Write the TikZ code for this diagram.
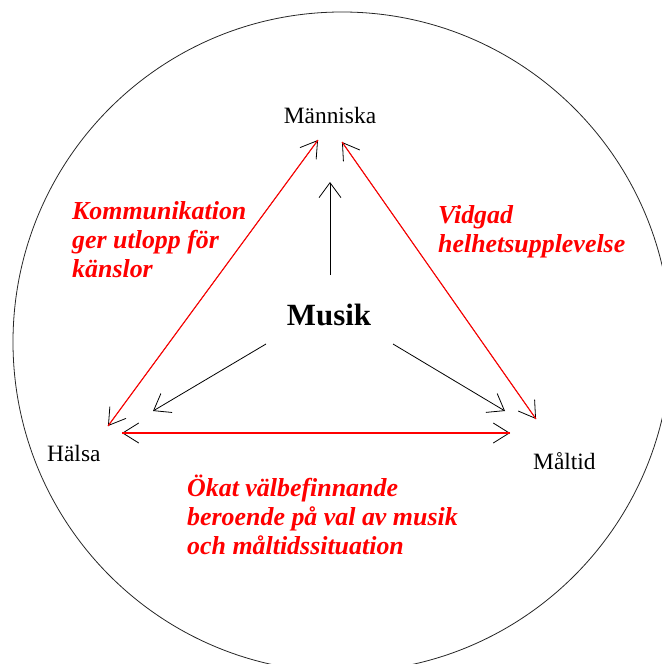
\documentclass[tikz,border=0pt]{standalone}
\usepackage{fontspec}
\setmainfont{Liberation Serif}
\usetikzlibrary{arrows.meta}
\begin{document}
\begin{tikzpicture}[x=1bp,y=-1bp,
  lbl/.style={font=\fontsize{23.5}{27}\selectfont, inner sep=0pt},
  big/.style={font=\fontsize{31}{36}\selectfont\bfseries, inner sep=0pt},
  redlbl/.style={text=red, font=\fontsize{26}{29}\selectfont\bfseries\itshape, align=left, inner sep=0pt, anchor=base west},
  blk/.style={draw=black, line width=0.8bp, -{Straight Barb[length=15bp,width=22bp]}},
  tips/.style={draw=black, line width=0.4bp, {Straight Barb[line width=0.8bp,length=16bp,width=20bp]}-{Straight Barb[line width=0.8bp,length=16bp,width=20bp]}},
  rl/.style={draw=red, line width=1.1bp}
]
\useasboundingbox (0,0) rectangle (662,664);
\begin{scope}
  \clip (0,0) rectangle (662,664);
  \draw[line width=0.8bp, black!85] (342,342) circle[x radius=329bp, y radius=330bp];
\end{scope}

% text nodes
\node[lbl, anchor=base] (manniska) at (330,124) {Människa};
\node[big, anchor=base] (musik) at (329,325) {Musik};
\node[lbl, anchor=base west] (halsa) at (47,461) {Hälsa};
\node[lbl, anchor=base west] (maltid) at (533,469) {Måltid};

% (base anchor of a multi-line node = baseline of its last line)
\node[redlbl] (komm) at (72,277) {Kommunikation\\ger utlopp för\\känslor};
\node[redlbl] (vidgad) at (438,252) {Vidgad\\helhetsupplevelse};
\node[redlbl] (okat) at (187,554) {Ökat välbefinnande\\beroende på val av musik\\och måltidssituation};

% arrow end points
\coordinate (hA) at (108,426);
\coordinate (mA) at (318,140);
\coordinate (mB) at (342,142);
\coordinate (tB) at (536,419);
\coordinate (hC) at (122,433);
\coordinate (tC) at (510,433);
\coordinate (muU) at (330,275);
\coordinate (mU) at (330,182);
\coordinate (muL) at (266,344);
\coordinate (hL) at (153,411);
\coordinate (muR) at (393,344);
\coordinate (tR) at (505,411);

% double arrows: black open tips, red line laid over
\draw[tips] (hA) -- (mA);
\draw[tips] (mB) -- (tB);
\draw[tips] (hC) -- (tC);
\draw[rl] (hA) -- (mA);
\draw[rl] (mB) -- (tB);
\draw[rl] (hC) -- (tC);

% black arrows from Musik
\draw[blk] (muU) -- (mU);
\draw[blk] (muL) -- (hL);
\draw[blk] (muR) -- (tR);
\end{tikzpicture}
\end{document}
